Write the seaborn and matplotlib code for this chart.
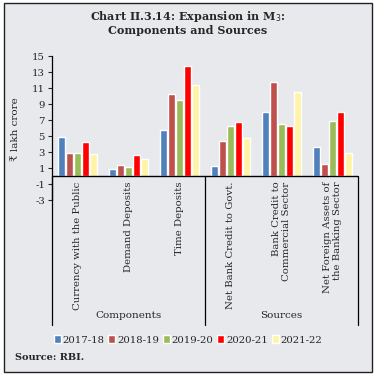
import matplotlib
matplotlib.use("Agg")
import matplotlib.pyplot as plt
import seaborn as sns
import pandas as pd
from matplotlib.patches import Rectangle
from matplotlib.lines import Line2D

# data
categories = [
    "Currency with the Public",
    "Demand Deposits",
    "Time Deposits",
    "Net Bank Credit to Govt.",
    "Bank Credit to\nCommercial Sector",
    "Net Foreign Assets of\nthe Banking Sector",
]
years = ["2017-18", "2018-19", "2019-20", "2020-21", "2021-22"]
v_2017_18 = [4.9, 0.9, 5.8, 1.3, 8.0, 3.6]
v_2018_19 = [2.9, 1.4, 10.3, 4.4, 11.7, 1.5]
v_2019_20 = [2.9, 1.1, 9.5, 6.3, 6.5, 6.9]
v_2020_21 = [4.2, 2.6, 13.8, 6.8, 6.3, 8.0]
v_2021_22 = [2.8, 2.1, 11.4, 4.7, 10.5, 2.9]
groups = ["Components", "Sources"]
yticks = [-3, -1, 1, 3, 5, 7, 9, 11, 13, 15]

colors = ["#4F81BD", "#C0504D", "#9BBB59", "#FF0000", "#FFF3A6"]
bg = "#E8E9ED"
serif = ["DejaVu Serif", "DejaVu Sans"]

sns.set_theme(style="white")
plt.rcParams["font.family"] = serif
plt.rcParams["font.size"] = 7.3

series = [v_2017_18, v_2018_19, v_2019_20, v_2020_21, v_2021_22]
rows = []
for yr, vals in zip(years, series):
    for cat, v in zip(categories, vals):
        rows.append({"category": cat, "year": yr, "value": v})
df = pd.DataFrame(rows)

W, H = 376, 377
fig = plt.figure(figsize=(W / 100, H / 100), dpi=100)
fig.patch.set_facecolor("white")
fig.patches.append(Rectangle((4 / W, 1 - 372 / H), 368 / W, 369 / H,
                             transform=fig.transFigure, facecolor=bg,
                             edgecolor="#222222", lw=1.0, zorder=-10))

# axes: value 15 at y=56px, -3 at y=200px
ax = fig.add_axes([52 / W, 1 - 200 / H, 306 / W, 144 / H])
ax.set_facecolor(bg)
sns.barplot(data=df, x="category", y="value", hue="year", palette=colors,
            saturation=1, width=0.78, gap=0.06, ax=ax, legend=True)
ax.set_ylim(-3, 15)
ax.set_xlim(-0.5, 5.5)
ax.set_yticks(yticks)
ax.set_yticklabels([str(t) for t in yticks])
ax.tick_params(axis="y", left=True, length=3, width=0.8, pad=2, labelsize=7.3)
ax.set_xticks([])
ax.set_xlabel("")
ax.set_ylabel("\u20b9 lakh crore", fontsize=7.5)
ax.yaxis.set_label_coords(-0.105, 0.49)
for s in ["top", "right", "bottom"]:
    ax.spines[s].set_visible(False)
ax.spines["left"].set_color("black")
ax.spines["left"].set_linewidth(0.9)
ax.axhline(0, color="black", lw=1.0, zorder=5)

# group box below axis
y_low = -3 - (325 - 200) / 8.0
for xv in [-0.5, 2.5, 5.5]:
    ax.add_line(Line2D([xv, xv], [0, y_low], color="black", lw=0.9, clip_on=False))

# category labels hanging below zero line
for i, cat in enumerate(categories):
    ax.annotate(cat, xy=(i, 0), xytext=(0, -4), textcoords="offset points",
                rotation=90, ha="center", va="top", multialignment="right",
                fontsize=7.3, annotation_clip=False)

for gi, g in enumerate(groups):
    ax.annotate(g, xy=(gi * 3 + 1, 1 - 316 / H), xycoords=("data", "figure fraction"),
                ha="center", va="center", fontsize=7.5, annotation_clip=False)

# legend
handles, labels = ax.get_legend_handles_labels()
ax.get_legend().remove()
fig.legend(handles, labels, loc="center", bbox_to_anchor=(188 / W, 1 - 340 / H),
           ncol=5, frameon=False, fontsize=7.3, handlelength=0.7, handleheight=0.7,
           handletextpad=0.2, columnspacing=0.35, borderaxespad=0)

fig.text(188 / W, 1 - 16 / H, "Chart II.3.14: Expansion in M$_3$:", ha="center",
         va="center", fontsize=8.0, fontweight="bold")
fig.text(188 / W, 1 - 30 / H, "Components and Sources", ha="center",
         va="center", fontsize=8.0, fontweight="bold")
fig.text(15 / W, 1 - 357 / H, "Source: RBI.", ha="left", va="center",
         fontsize=7.0, fontweight="bold")

fig.savefig("out.png", dpi=100, facecolor=fig.get_facecolor())
